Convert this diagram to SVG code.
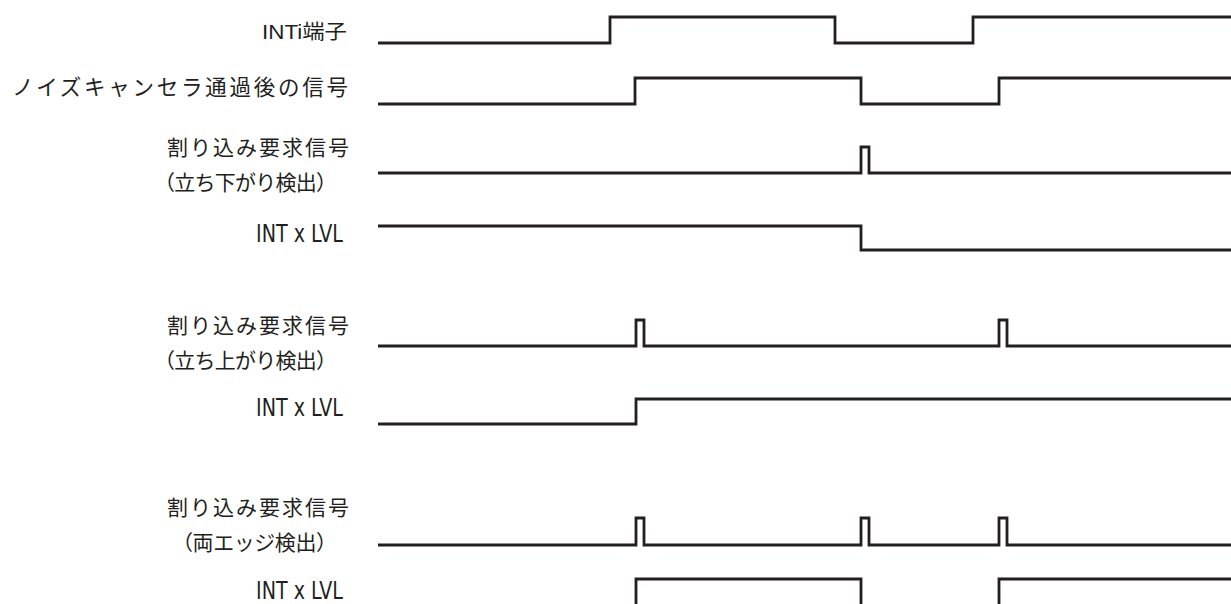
<svg xmlns="http://www.w3.org/2000/svg" width="1231" height="604" viewBox="0 0 1231 604">
<style>
.w{fill:none;stroke:#231f20;stroke-width:2.8;stroke-linejoin:miter;stroke-linecap:butt}
.j{font-family:"Noto Sans CJK JP","Noto Sans",sans-serif;fill:#231f20}
.n{font-family:"Liberation Sans","Noto Sans CJK JP",sans-serif;fill:#231f20}
.c{font-family:"DejaVu Sans Condensed","Liberation Sans",sans-serif;fill:#231f20}
</style>
<rect width="1231" height="604" fill="#fff"/>
<g id="labels">
<g id="label-inti"><text class="n" x="262" y="39" font-size="20" textLength="85" lengthAdjust="spacingAndGlyphs">INTi端子</text></g>
<g id="label-noise"><text class="j" x="12" y="95" font-size="21.5" textLength="336" lengthAdjust="spacing">ノイズキャンセラ通過後の信号</text></g>
<g id="label-req-fall"><text class="j" x="167" y="155" font-size="21" textLength="182" lengthAdjust="spacing">割り込み要求信号</text>
<text class="j" x="154" y="190" font-size="21" textLength="183" lengthAdjust="spacing">（立ち下がり検出）</text></g>
<g id="label-lvl1"><text class="c" x="256" y="242" font-size="24" textLength="87" lengthAdjust="spacingAndGlyphs">INT x LVL</text></g>
<g id="label-req-rise"><text class="j" x="167" y="333" font-size="21" textLength="182" lengthAdjust="spacing">割り込み要求信号</text>
<text class="j" x="154" y="368" font-size="21" textLength="183" lengthAdjust="spacing">（立ち上がり検出）</text></g>
<g id="label-lvl2"><text class="c" x="256" y="416" font-size="24" textLength="87" lengthAdjust="spacingAndGlyphs">INT x LVL</text></g>
<g id="label-req-both"><text class="j" x="167" y="515" font-size="21" textLength="182" lengthAdjust="spacing">割り込み要求信号</text>
<text class="j" x="172" y="550" font-size="21" textLength="165" lengthAdjust="spacing">（両エッジ検出）</text></g>
<g id="label-lvl3"><text class="c" x="256" y="599" font-size="24" textLength="87" lengthAdjust="spacingAndGlyphs">INT x LVL</text></g>
</g>
<g id="waveforms">
<polyline class="w" points="378,43 610,43 610,17 835,17 835,43 973,43 973,17 1231,17"/>
<polyline class="w" points="378,104 635,104 635,78 861,78 861,104 999,104 999,78 1231,78"/>
<polyline class="w" points="378,173 861,173 861,147 869,147 869,173 1231,173"/>
<polyline class="w" points="378,226 861,226 861,250 1231,250"/>
<polyline class="w" points="378,346 636,346 636,320 644,320 644,346 999,346 999,320 1007,320 1007,346 1231,346"/>
<polyline class="w" points="378,424 636,424 636,399 1231,399"/>
<polyline class="w" points="378,545 636,545 636,518 644,518 644,545 861,545 861,518 869,518 869,545 999,545 999,518 1007,518 1007,545 1231,545"/>
<polyline class="w" points="636,610 636,579 861,579 861,610"/>
<polyline class="w" points="999,610 999,579 1231,579"/>
</g>
</svg>
